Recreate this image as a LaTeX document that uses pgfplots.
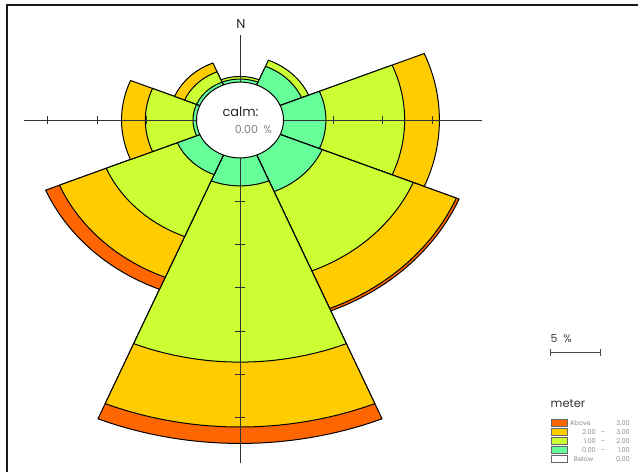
\documentclass[border=0pt]{standalone}
\usepackage{fontspec}
\setmainfont{Poppins}
\usepackage{pgfplots}
\usepackage{pgfplotstable}
\pgfplotsset{compat=1.18}
\definecolor{cOr}{RGB}{255,102,0}
\definecolor{cYe}{RGB}{255,204,0}
\definecolor{cYg}{RGB}{204,255,51}
\definecolor{cGr}{RGB}{102,255,153}

% share (%) of each wave-height class per direction sector
\pgfplotstableread{
dir  g     yg     y     o
0    0.35  0.30   0.00  0.00
45   2.33  0.77   0.00  0.00
90   4.27  7.93   3.50  0.00
135  4.57  9.93   4.70  0.30
180  3.23  20.37  7.50  1.90
225  2.45  7.75   5.10  1.50
270  0.35  4.80   2.40  0.00
315  0.35  1.30   1.10  0.00
}\rosetable

\newcommand{\calmr}{4.38}
\newcommand{\wedgeplot}[4]{% start angle, end angle, cumulative %, colour
  \addplot[draw=black, line width=1bp, fill=#4, domain=#1:#2, samples=45, variable=\t]
    ({(\calmr+#3)*sin(\t)}, {(\calmr+#3)*cos(\t)}) -- (axis cs:0,0) -- cycle;
}

\begin{document}
\begin{tikzpicture}
\begin{axis}[scale only axis, width=638bp, height=472bp,
  xmin=-24.169, xmax=40.08, ymin=-40.68, ymax=13.87,
  hide axis, clip=false]
\pgfplotsinvokeforeach{0,...,7}{%
  \pgfplotstablegetelem{#1}{dir}\of\rosetable \let\rdir\pgfplotsretval
  \pgfplotstablegetelem{#1}{g}\of\rosetable \let\rg\pgfplotsretval
  \pgfplotstablegetelem{#1}{yg}\of\rosetable \let\ryg\pgfplotsretval
  \pgfplotstablegetelem{#1}{y}\of\rosetable \let\ry\pgfplotsretval
  \pgfplotstablegetelem{#1}{o}\of\rosetable \let\ro\pgfplotsretval
  \pgfmathsetmacro\aL{\rdir-22.5}
  \pgfmathsetmacro\aR{\rdir+22.5}
  \pgfmathsetmacro\cA{\rg}
  \pgfmathsetmacro\cB{\rg+\ryg}
  \pgfmathsetmacro\cC{\cB+\ry}
  \pgfmathsetmacro\cD{\cC+\ro}
  \ifdim\ro pt>0pt \edef\tmp{\noexpand\wedgeplot{\aL}{\aR}{\cD}{cOr}}\tmp\fi
  \ifdim\ry pt>0pt \edef\tmp{\noexpand\wedgeplot{\aL}{\aR}{\cC}{cYe}}\tmp\fi
  \ifdim\ryg pt>0pt \edef\tmp{\noexpand\wedgeplot{\aL}{\aR}{\cB}{cYg}}\tmp\fi
  \ifdim\rg pt>0pt \edef\tmp{\noexpand\wedgeplot{\aL}{\aR}{\cA}{cGr}}\tmp\fi
}
% cross with 5 % ticks
\addplot[black!80, line width=0.8bp] coordinates {(-21.75,0) (24.37,0)};
\addplot[black!80, line width=0.8bp] coordinates {(0,9.82) (0,-39.64)};
\addplot[only marks, black!80, mark=|, mark size=4bp, mark options={line width=0.8bp}]
  coordinates {(-19.38,0) (-14.38,0) (-9.38,0) (9.38,0) (14.38,0) (19.38,0)};
\addplot[only marks, black!80, mark=-, mark size=5bp, mark options={line width=0.8bp}]
  coordinates {(0,-9.38) (0,-14.38) (0,-19.38) (0,-24.38) (0,-29.38) (0,-34.38)};
% calm circle
\addplot[draw=black, line width=1bp, fill=white, domain=0:360, samples=120, variable=\t]
  ({\calmr*sin(\t)}, {\calmr*cos(\t)}) -- cycle;
% 5 % scale bar
\addplot[black!70, line width=0.8bp, mark=|, mark size=3.5bp, mark options={solid}]
  coordinates {(31.29,-26.9) (36.29,-26.9)};
\end{axis}
\begin{scope}[x=1bp, y=-1bp, shift={(0bp,472bp)}]
\draw[line width=2bp, black!90] (7,472) -- (7,5) -- (638,5);
\node[anchor=base, inner sep=0pt, font=\fontsize{13}{13}\selectfont, text=black!85] at (241,28.3) {N};
\node[anchor=base, inner sep=0pt, font=\fontsize{13}{13}\selectfont, text=black!85] at (240.5,116.7) {calm:};
\node[anchor=base, inner sep=0pt, font=\fontsize{11}{12}\selectfont, text=black!50] at (253.5,133.3) {0.00\ \ \%};
\node[anchor=base west, inner sep=0pt, font=\fontsize{11}{12}\selectfont, text=black!75] at (550.5,342.7) {5\ \ \%};
\node[anchor=base west, inner sep=0pt, font=\fontsize{11.5}{12}\selectfont, text=black!80] at (550.5,408) {meter};
\foreach \c/\yy in {cOr/419.5, cYe/428.5, cYg/437.5, cGr/446.5, white/455.5}
  \filldraw[fill=\c, draw=black!60, line width=0.7bp] (551,\yy) rectangle (567.5,\yy+7);
\begin{scope}[every node/.style={inner sep=0pt, font=\fontsize{6.6}{7}\selectfont, text=black!45}]
\node[anchor=base east] at (591,425.6) {Above};
\node[anchor=base east] at (630,425.6) {3.00};
\node[anchor=base east] at (596,434.6) {2.00};
\node[anchor=base] at (603,434.6) {--};
\node[anchor=base east] at (630,434.6) {3.00};
\node[anchor=base east] at (596,443.6) {1.00};
\node[anchor=base] at (603,443.6) {--};
\node[anchor=base east] at (630,443.6) {2.00};
\node[anchor=base east] at (596,452.6) {0.00};
\node[anchor=base] at (603,452.6) {--};
\node[anchor=base east] at (630,452.6) {1.00};
\node[anchor=base east] at (593.5,461.6) {Below};
\node[anchor=base east] at (630,461.6) {0.00};
\end{scope}
\pgfresetboundingbox
\path (0,0) rectangle (638,472);
\end{scope}
\end{tikzpicture}
\end{document}
